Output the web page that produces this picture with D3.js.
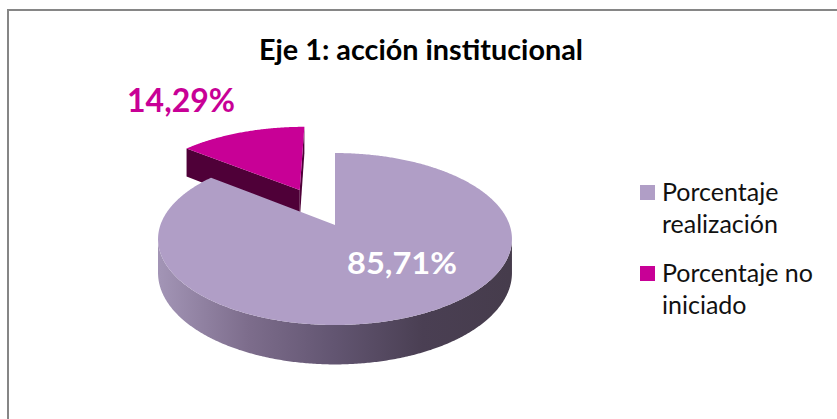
<!DOCTYPE html>
<html>
<head>
<meta charset="utf-8">
<script src="https://cdn.jsdelivr.net/npm/d3@7"></script>
<style>
  body { margin: 0; background: #fff; }
  svg { display: block; }
</style>
</head>
<body>
<svg id="chart"></svg>
<script>
const title = 'Eje 1: acción institucional';
const categories = ['Porcentaje realización', 'Porcentaje no iniciado'];
const values = [85.71, 14.29];
const valueLabels = ['85,71%', '14,29%'];
const legendLines = [['Porcentaje', 'realización'], ['Porcentaje no', 'iniciado']];
const explode = [0, 0.5]; // slice pulled out, as a share of the radius

const config = {
  width: 837,
  height: 419,
  cx: 335, // centre of the pie, in pixels
  cy: 225,
  rx: 174.6, // horizontal radius
  ry: 83.7, // vertical radius (tilt)
  persp: 0.163, // perspective strength
  depth: 33, // thickness of the pie
  colors: ['#b09ec6', '#c80096'],
  sideColors: ['#5d5070', '#4f0038'],
  font: 'Lato, "Open Sans", sans-serif',
};

const c = config;
const svg = d3.select('#chart')
  .attr('width', c.width)
  .attr('height', c.height)
  .attr('viewBox', [0, 0, c.width, c.height]);

// outer frame of the chart area
svg.append('rect')
  .attr('x', 8).attr('y', 10)
  .attr('width', c.width).attr('height', c.height)
  .attr('fill', 'none')
  .attr('stroke', '#868686')
  .attr('stroke-width', 2);

// side wall gradient of the big slice
const defs = svg.append('defs');
const grad = defs.append('linearGradient')
  .attr('id', 'wall0')
  .attr('gradientUnits', 'userSpaceOnUse')
  .attr('x1', c.cx - c.rx).attr('x2', c.cx + c.rx).attr('y1', 0).attr('y2', 0);
[[0, '#a294b5'], [0.25, '#7d6d8c'], [0.5, '#625571'], [0.75, '#4a3f53'], [1, '#463c4c']]
  .forEach(([o, col]) => grad.append('stop').attr('offset', o).attr('stop-color', col));

/**
 * projection of a point of the disc (u right, v back, z down) to the screen
 */
const proj = (u, v, z) => {
  const w = 1 + c.persp * v;
  return [c.cx + (c.rx * u) / w, c.cy - (c.ry * v) / w + (c.depth * z) / w];
};
const line = d3.line();
const cam = [0, -1 / c.persp];

const pie = d3.pie().sort(null)(values);
const slices = pie.map((p, i) => {
  const mid = (p.startAngle + p.endAngle) / 2;
  const off = [explode[i] * Math.sin(mid), explode[i] * Math.cos(mid)];
  return { ...p, i, mid, off };
});

// back slices first
const order = slices.slice().sort((a, b) => (b.off[1] + Math.cos(b.mid)) - (a.off[1] + Math.cos(a.mid)));

const pieG = svg.append('g');
order.forEach((s) => {
  const g = pieG.append('g');
  const [ou, ov] = s.off;
  const rim = (a, z) => proj(ou + Math.sin(a), ov + Math.cos(a), z);
  const centre = (z) => proj(ou, ov, z);
  const angles = d3.range(s.startAngle, s.endAngle, Math.PI / 360).concat([s.endAngle]);

  // radial faces
  [[s.startAngle, -1], [s.endAngle, 1]].forEach(([a, sign]) => {
    const n = [sign * Math.cos(a), -sign * Math.sin(a)];
    const p = [ou + 0.5 * Math.sin(a), ov + 0.5 * Math.cos(a)];
    const dot = n[0] * (cam[0] - p[0]) + n[1] * (cam[1] - p[1]);
    if (dot <= 0.001) return;
    g.append('path')
      .attr('fill', c.sideColors[s.i])
      .attr('d', line([centre(0), rim(a, 0), rim(a, 1), centre(1)]) + 'Z');
  });

  // outer wall, only the part turned to the viewer
  const visible = (a) => {
    const p = [ou + Math.sin(a), ov + Math.cos(a)];
    return Math.sin(a) * (cam[0] - p[0]) + Math.cos(a) * (cam[1] - p[1]) > 0;
  };
  let run = [];
  const runs = [];
  angles.forEach((a) => {
    if (visible(a)) run.push(a);
    else if (run.length) { runs.push(run); run = []; }
  });
  if (run.length) runs.push(run);
  runs.forEach((r) => {
    const pts = r.map((a) => rim(a, 0)).concat(r.slice().reverse().map((a) => rim(a, 1)));
    g.append('path')
      .attr('fill', s.i === 0 ? 'url(#wall0)' : c.sideColors[s.i])
      .attr('d', line(pts) + 'Z');
  });

  // top face
  g.append('path')
    .attr('fill', c.colors[s.i])
    .attr('d', line([centre(0)].concat(angles.map((a) => rim(a, 0)))) + 'Z');
});

// title
svg.append('text')
  .attr('x', 421).attr('y', 60)
  .attr('text-anchor', 'middle')
  .attr('font-family', c.font)
  .attr('font-weight', 'bold')
  .attr('font-size', 28)
  .attr('textLength', 324)
  .attr('lengthAdjust', 'spacingAndGlyphs')
  .attr('fill', '#000')
  .text(title);

// value labels
const labelPos = [
  { x: 402, y: 274, fill: '#fff', size: 31, len: 110 },
  { x: 181, y: 112, fill: c.colors[1], size: 32, len: 108 },
];
svg.append('g')
  .selectAll('text')
  .data(valueLabels)
  .join('text')
  .attr('x', (_, i) => labelPos[i].x)
  .attr('y', (_, i) => labelPos[i].y)
  .attr('text-anchor', 'middle')
  .attr('font-family', c.font)
  .attr('font-weight', 'bold')
  .attr('font-size', (_, i) => labelPos[i].size)
  .attr('textLength', (_, i) => labelPos[i].len)
  .attr('lengthAdjust', 'spacingAndGlyphs')
  .attr('fill', (_, i) => labelPos[i].fill)
  .text((d) => d);

// legend
const legend = svg.append('g').attr('transform', 'translate(640,185)');
const item = legend.selectAll('g')
  .data(categories)
  .join('g')
  .attr('transform', (_, i) => `translate(0,${i * 81})`);
item.append('rect')
  .attr('width', 15).attr('height', 15)
  .attr('fill', (_, i) => c.colors[i]);
item.append('text')
  .attr('font-family', c.font)
  .attr('font-size', 25)
  .attr('fill', '#111')
  .selectAll('tspan')
  .data((_, i) => legendLines[i])
  .join('tspan')
  .attr('x', 22)
  .attr('y', (_, j) => 15.5 + j * 32)
  .text((d) => d);
</script>
</body>
</html>
